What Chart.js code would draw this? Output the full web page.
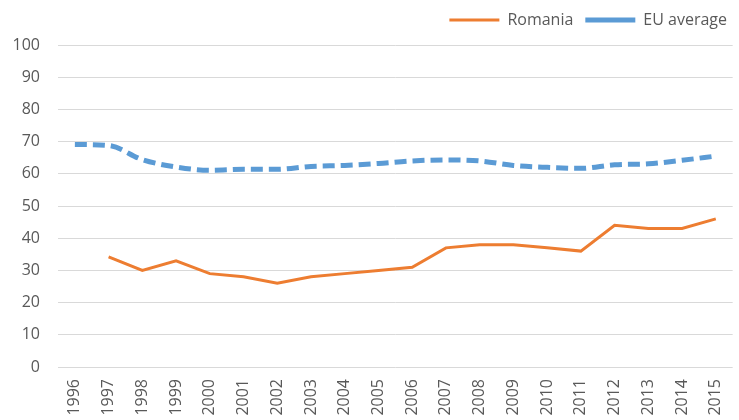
<!DOCTYPE html>
<html>
<head>
<meta charset="utf-8">
<script src="https://cdn.jsdelivr.net/npm/chart.js@4"></script>
<style>
  html, body { margin: 0; padding: 0; background: #fff; }
  #wrap { width: 739px; height: 420px; }
</style>
</head>
<body>
<div id="wrap"><canvas id="c" width="739" height="420"></canvas></div>
<script>
const years = ['1996','1997','1998','1999','2000','2001','2002','2003','2004','2005',
               '2006','2007','2008','2009','2010','2011','2012','2013','2014','2015'];
const romania = [null, 34.2, 30, 33, 29, 28, 26, 28, 29, 30,
                 31, 37, 38, 38, 37, 36, 44, 43, 43, 46];
const euAverage = [69.1, 68.8, 64.4, 62.1, 61.1, 61.4, 61.4, 62.3, 62.6, 63.2,
                   64.0, 64.3, 64.0, 62.6, 62.0, 61.7, 62.8, 63.1, 64.2, 65.5];
const yTicks = [0, 10, 20, 30, 40, 50, 60, 70, 80, 90, 100];

const textColor = '#595959';
const font = { family: "'Open Sans', 'Liberation Sans', sans-serif", size: 16 };

// Extra space between the legend row and the plot area
const legendGap = {
  id: 'legendGap',
  beforeInit(chart) {
    const fit = chart.legend.fit;
    chart.legend.fit = function () {
      fit.call(this);
      this.height += 7;
    };
  }
};

new Chart(document.getElementById('c'), {
  type: 'line',
  data: {
    labels: years,
    datasets: [
      {
        label: 'Romania',
        data: romania,
        borderColor: '#ED7D31',
        backgroundColor: '#ED7D31',
        borderWidth: 3,
        pointRadius: 0,
        tension: 0,
        fill: false
      },
      {
        label: 'EU average',
        data: euAverage,
        borderColor: '#5B9BD5',
        backgroundColor: '#5B9BD5',
        borderWidth: 5,
        borderDash: [12, 6],
        pointRadius: 0,
        cubicInterpolationMode: 'monotone',
        fill: false
      }
    ]
  },
  plugins: [legendGap],
  options: {
    responsive: false,
    animation: false,
    layout: { padding: { top: 0, right: 0, bottom: 0, left: 0 } },
    plugins: {
      tooltip: { enabled: false },
      legend: {
        position: 'top',
        align: 'end',
        labels: {
          usePointStyle: true,
          pointStyle: 'line',
          pointStyleWidth: 50,
          color: textColor,
          font: font,
          padding: 12
        }
      }
    },
    scales: {
      x: {
        offset: true,
        grid: { display: false },
        border: { display: false },
        ticks: {
          color: textColor,
          font: font,
          minRotation: 90,
          maxRotation: 90,
          autoSkip: false,
          padding: 4
        },
        afterFit: s => { s.height = 53; }
      },
      y: {
        min: 0,
        max: 100,
        afterBuildTicks: s => { s.ticks = yTicks.map(v => ({ value: v })); },
        grid: { color: '#D9D9D9', lineWidth: 1, drawTicks: false },
        border: { display: false },
        ticks: { color: textColor, font: font, padding: 18 },
        afterFit: s => { s.width = 58; }
      }
    }
  }
});
</script>
</body>
</html>
